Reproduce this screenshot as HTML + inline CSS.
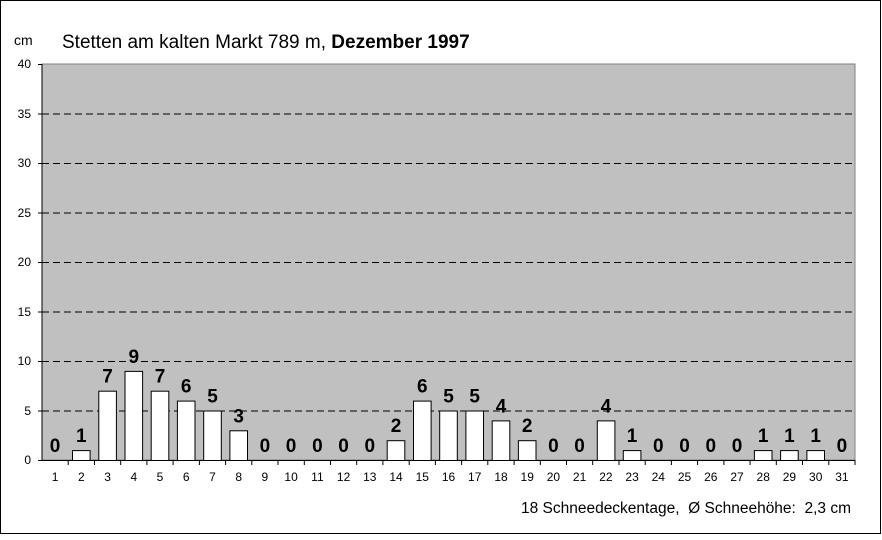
<!DOCTYPE html>
<html><head><style>
body{margin:0;background:#fff;}
</style></head><body>
<svg width="882" height="535" xmlns="http://www.w3.org/2000/svg" font-family="Liberation Sans, Arial, sans-serif">
<rect x="0.5" y="0.5" width="880" height="533" fill="#fff" stroke="#000"/>
<rect x="42" y="64" width="813" height="396" fill="#c0c0c0" stroke="#808080"/>
<g stroke="#000" stroke-dasharray="7,4" stroke-width="1">
<line x1="42" x2="855" y1="114" y2="114"/><line x1="42" x2="855" y1="163.5" y2="163.5"/>
<line x1="42" x2="855" y1="213" y2="213"/><line x1="42" x2="855" y1="262.5" y2="262.5"/>
<line x1="42" x2="855" y1="312" y2="312"/><line x1="42" x2="855" y1="361.5" y2="361.5"/>
<line x1="42" x2="855" y1="411" y2="411"/>
</g>
<line x1="42" x2="42" y1="64" y2="460" stroke="#000"/>
<line x1="38" x2="855" y1="460.5" y2="460.5" stroke="#000"/>
<g font-size="12" text-anchor="end" fill="#000">
<text x="31" y="464">0</text><text x="31" y="415">5</text><text x="31" y="365">10</text>
<text x="31" y="316">15</text><text x="31" y="266">20</text><text x="31" y="217">25</text>
<text x="31" y="167">30</text><text x="31" y="118">35</text><text x="31" y="68">40</text>
</g>
<path stroke="#000" d="M38 64.5h4M38 114h4M38 163.5h4M38 213h4M38 262.5h4M38 312h4M38 361.5h4M38 411h4"/>
<path stroke="#000" d="M68.2 460v5M94.5 460v5M120.7 460v5M146.9 460v5M173.1 460v5M199.4 460v5M225.6 460v5M251.8 460v5M278 460v5M304.3 460v5M330.5 460v5M356.7 460v5M382.9 460v5M409.2 460v5M435.4 460v5M461.6 460v5M487.8 460v5M514.1 460v5M540.3 460v5M566.5 460v5M592.7 460v5M619 460v5M645.2 460v5M671.4 460v5M697.6 460v5M723.9 460v5M750.1 460v5M776.3 460v5M802.5 460v5M828.8 460v5M855 460v5"/>
<text x="14" y="45" font-size="14">cm</text>
<text x="62" y="48" font-size="19">Stetten am kalten Markt 789 m, <tspan font-weight="bold">Dezember 1997</tspan></text>
<text x="851" y="513" font-size="15.5" text-anchor="end" xml:space="preserve">18 Schneedeckentage,  Ø Schneehöhe:  2,3 cm</text>
<g fill="#fff" stroke="#000">
<rect x="72.5" y="450.6" width="17.6" height="9.9"/>
<rect x="98.8" y="391.2" width="17.6" height="69.3"/>
<rect x="125" y="371.4" width="17.6" height="89.1"/>
<rect x="151.2" y="391.2" width="17.6" height="69.3"/>
<rect x="177.4" y="401.1" width="17.6" height="59.4"/>
<rect x="203.7" y="411" width="17.6" height="49.5"/>
<rect x="229.9" y="430.8" width="17.6" height="29.7"/>
<rect x="387.2" y="440.7" width="17.6" height="19.8"/>
<rect x="413.5" y="401.1" width="17.6" height="59.4"/>
<rect x="439.7" y="411" width="17.6" height="49.5"/>
<rect x="465.9" y="411" width="17.6" height="49.5"/>
<rect x="492.2" y="420.9" width="17.6" height="39.6"/>
<rect x="518.4" y="440.7" width="17.6" height="19.8"/>
<rect x="597.3" y="420.9" width="17.6" height="39.6"/>
<rect x="623.3" y="450.6" width="17.6" height="9.9"/>
<rect x="754.4" y="450.6" width="17.6" height="9.9"/>
<rect x="780.6" y="450.6" width="17.6" height="9.9"/>
<rect x="806.9" y="450.6" width="17.6" height="9.9"/>
</g>
<g font-size="19" font-weight="bold" text-anchor="middle" transform="translate(0,-2.5)">
<text x="55.1" y="454.5">0</text><text x="81.3" y="444.6">1</text><text x="107.6" y="385.2">7</text><text x="133.8" y="365.4">9</text><text x="160" y="385.2">7</text><text x="186.2" y="395.1">6</text><text x="212.5" y="405">5</text><text x="238.7" y="424.8">3</text><text x="264.9" y="454.5">0</text><text x="291.1" y="454.5">0</text><text x="317.4" y="454.5">0</text><text x="343.6" y="454.5">0</text><text x="369.8" y="454.5">0</text><text x="396" y="434.7">2</text><text x="422.3" y="395.1">6</text><text x="448.5" y="405">5</text><text x="474.7" y="405">5</text><text x="501" y="414.9">4</text><text x="527.2" y="434.7">2</text><text x="553.4" y="454.5">0</text><text x="579.6" y="454.5">0</text><text x="605.9" y="414.9">4</text><text x="632.1" y="444.6">1</text><text x="658.3" y="454.5">0</text><text x="684.5" y="454.5">0</text><text x="710.8" y="454.5">0</text><text x="737" y="454.5">0</text><text x="763.2" y="444.6">1</text><text x="789.4" y="444.6">1</text><text x="815.7" y="444.6">1</text><text x="841.9" y="454.5">0</text>
</g>
<g font-size="12" text-anchor="middle">
<text x="55.1" y="481">1</text><text x="81.3" y="481">2</text><text x="107.6" y="481">3</text><text x="133.8" y="481">4</text><text x="160" y="481">5</text><text x="186.2" y="481">6</text><text x="212.5" y="481">7</text><text x="238.7" y="481">8</text><text x="264.9" y="481">9</text><text x="291.1" y="481">10</text><text x="317.4" y="481">11</text><text x="343.6" y="481">12</text><text x="369.8" y="481">13</text><text x="396" y="481">14</text><text x="422.3" y="481">15</text><text x="448.5" y="481">16</text><text x="474.7" y="481">17</text><text x="501" y="481">18</text><text x="527.2" y="481">19</text><text x="553.4" y="481">20</text><text x="579.6" y="481">21</text><text x="605.9" y="481">22</text><text x="632.1" y="481">23</text><text x="658.3" y="481">24</text><text x="684.5" y="481">25</text><text x="710.8" y="481">26</text><text x="737" y="481">27</text><text x="763.2" y="481">28</text><text x="789.4" y="481">29</text><text x="815.7" y="481">30</text><text x="841.9" y="481">31</text>
</g>
</svg>
</body></html>
